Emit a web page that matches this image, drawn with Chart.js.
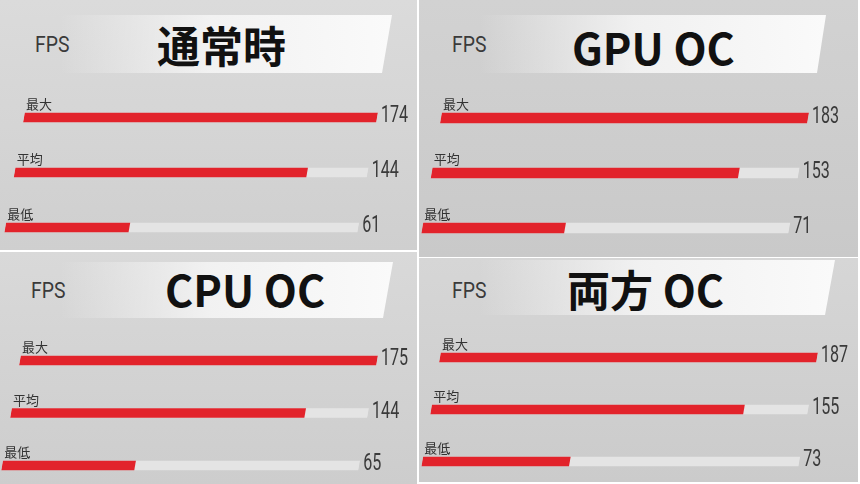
<!DOCTYPE html>
<html>
<head>
<meta charset="utf-8">
<script src="https://cdn.jsdelivr.net/npm/chart.js@4/dist/chart.umd.min.js"></script>
<style>
	html, body { margin: 0; padding: 0; background: #fff; }
	#board { position: relative; width: 860px; height: 484px; overflow: hidden; background: #fff; }
	.panel { position: absolute; overflow: hidden; }
	.banner { position: absolute; }
	.fps { position: absolute; font-family: Roboto, "Liberation Sans", sans-serif; color: #3a3a3a; line-height: 1; transform-origin: left center; white-space: nowrap; }
	.title { position: absolute; font-family: "Noto Sans CJK JP", "Noto Sans", sans-serif; font-weight: 700; color: #111; line-height: 1; white-space: nowrap; }
	.panel canvas { position: absolute; left: 0; top: 0; }
</style>
</head>
<body>
<div id="board"></div>
<script>
//data
const panelTitles = ['通常時', 'GPU OC', 'CPU OC', '両方 OC'];
const rowLabels = ['最大', '平均', '最低'];
const maxFps = [174, 183, 175, 187];
const avgFps = [144, 153, 144, 155];
const minFps = [61, 71, 65, 73];

//layout of each screenshot panel (pixels)
const panels = [
	{ x: 0, y: 0, w: 417, h: 250, bg: ['#dbdbdb', '#cfcfcf'], barL: 24, barR: 377, row1: 117.5, pitch: 55, thick: 9,
		banner: [60, 15, 392, 73, 10], titleX: 157, titleY: 44, fpsX: 35, fpsY: 45 },
	{ x: 419, y: 0, w: 439, h: 257, bg: ['#d2d2d2', '#c9c9c9'], barL: 22, barR: 389, row1: 118, pitch: 55, thick: 10,
		banner: [60, 15, 407, 73, 9], titleX: 153, titleY: 46, fpsX: 33, fpsY: 45 },
	{ x: 0, y: 252, w: 417, h: 232, bg: ['#d9d9d9', '#cdcdcd'], barL: 20, barR: 377, row1: 108.5, pitch: 52.5, thick: 9,
		banner: [60, 10, 393, 66, 10], titleX: 165, titleY: 36, fpsX: 31, fpsY: 39 },
	{ x: 419, y: 258, w: 439, h: 224, bg: ['#d6d6d6', '#cbcbcb'], barL: 21, barR: 398, row1: 99.5, pitch: 52, thick: 9,
		banner: [60, 2, 416, 57, 10], titleX: 148, titleY: 30, fpsX: 33, fpsY: 33 }
];

const skew = 0.17; //rows further down shift to the left
const barRed = '#e2232b';
const trackGrey = '#e4e4e4';

const board = document.getElementById('board');

//shear the bars so they lean like the game UI
const skewPlugin = {
	id: 'skewBars',
	beforeDatasetsDraw(chart) {
		const y0 = chart.getDatasetMeta(0).data[0].y;
		chart.ctx.save();
		chart.ctx.transform(1, 0, -skew, 1, skew * y0, 0);
	},
	afterDatasetsDraw(chart) {
		const ctx = chart.ctx;
		ctx.restore();
		const bars = chart.getDatasetMeta(0).data;
		const tracks = chart.getDatasetMeta(1).data;
		const y0 = bars[0].y;
		const labels = chart.data.labels;
		const values = chart.data.datasets[0].data;
		for (let i = 0; i < bars.length; i++) {
			const shift = -skew * (bars[i].y - y0);
			const top = bars[i].y - bars[i].height / 2;
			//row name above the bar
			ctx.save();
			ctx.fillStyle = '#333';
			ctx.font = '13px "Noto Sans CJK JP", sans-serif';
			ctx.textBaseline = 'alphabetic';
			ctx.textAlign = 'left';
			ctx.fillText(labels[i], bars[i].base + shift + 2, top - 4);
			ctx.restore();
			//value after the track
			ctx.save();
			ctx.translate(tracks[i].x + shift + 4, bars[i].y - 1);
			ctx.scale(0.7, 1);
			ctx.fillStyle = '#3a3a3a';
			ctx.font = '23px Roboto, sans-serif';
			ctx.textBaseline = 'middle';
			ctx.textAlign = 'left';
			ctx.fillText(String(values[i]), 0, 0);
			ctx.restore();
		}
	}
};

panels.forEach((p, n) => {
	const panel = document.createElement('div');
	panel.className = 'panel';
	panel.style.left = p.x + 'px';
	panel.style.top = p.y + 'px';
	panel.style.width = p.w + 'px';
	panel.style.height = p.h + 'px';
	panel.style.background = 'linear-gradient(180deg, ' + p.bg[0] + ', ' + p.bg[1] + ')';
	board.appendChild(panel);

	//white title banner with slanted right edge
	const [bl, bt, br, bb, slant] = p.banner;
	const banner = document.createElement('div');
	banner.className = 'banner';
	banner.style.left = bl + 'px';
	banner.style.top = bt + 'px';
	banner.style.width = (br - bl) + 'px';
	banner.style.height = (bb - bt) + 'px';
	banner.style.background = 'linear-gradient(90deg, rgba(250,250,250,0) 0%, rgba(246,246,246,0.85) 45%, rgba(250,250,250,1) 100%)';
	banner.style.clipPath = 'polygon(0 0, 100% 0, calc(100% - ' + slant + 'px) 100%, 0 100%)';
	panel.appendChild(banner);

	const fps = document.createElement('div');
	fps.className = 'fps';
	fps.textContent = 'FPS';
	fps.style.fontSize = '22px';
	fps.style.left = p.fpsX + 'px';
	fps.style.top = (p.fpsY - 11) + 'px';
	fps.style.transform = 'scaleX(0.88)';
	panel.appendChild(fps);

	const title = document.createElement('div');
	title.className = 'title';
	title.textContent = panelTitles[n];
	title.style.fontSize = '43px';
	title.style.left = p.titleX + 'px';
	title.style.top = (p.titleY - 21.5) + 'px';
	panel.appendChild(title);

	//bars
	const canvasH = Math.ceil(p.row1 + 2.5 * p.pitch) + 10;
	const canvas = document.createElement('canvas');
	canvas.width = p.w;
	canvas.height = canvasH;
	canvas.style.width = p.w + 'px';
	canvas.style.height = canvasH + 'px';
	panel.appendChild(canvas);

	const top = maxFps[n];
	new Chart(canvas, {
		type: 'bar',
		data: {
			labels: rowLabels,
			datasets: [{
				label: 'fps',
				data: [maxFps[n], avgFps[n], minFps[n]],
				backgroundColor: barRed,
				barThickness: p.thick,
				borderWidth: 0,
				grouped: false,
				order: 0
			}, {
				label: 'track',
				data: [top, top, top],
				backgroundColor: trackGrey,
				barThickness: p.thick,
				borderWidth: 0,
				grouped: false,
				order: 1
			}]
		},
		options: {
			indexAxis: 'y',
			responsive: false,
			animation: false,
			devicePixelRatio: 1,
			layout: {
				padding: {
					left: p.barL,
					right: p.w - p.barR,
					top: p.row1 - p.pitch / 2,
					bottom: canvasH - (p.row1 + 2.5 * p.pitch)
				}
			},
			scales: {
				x: { display: false, min: 0, max: top },
				y: { display: false, offset: true }
			},
			plugins: {
				legend: { display: false },
				tooltip: { enabled: false }
			}
		},
		plugins: [skewPlugin]
	});
});
</script>
</body>
</html>
